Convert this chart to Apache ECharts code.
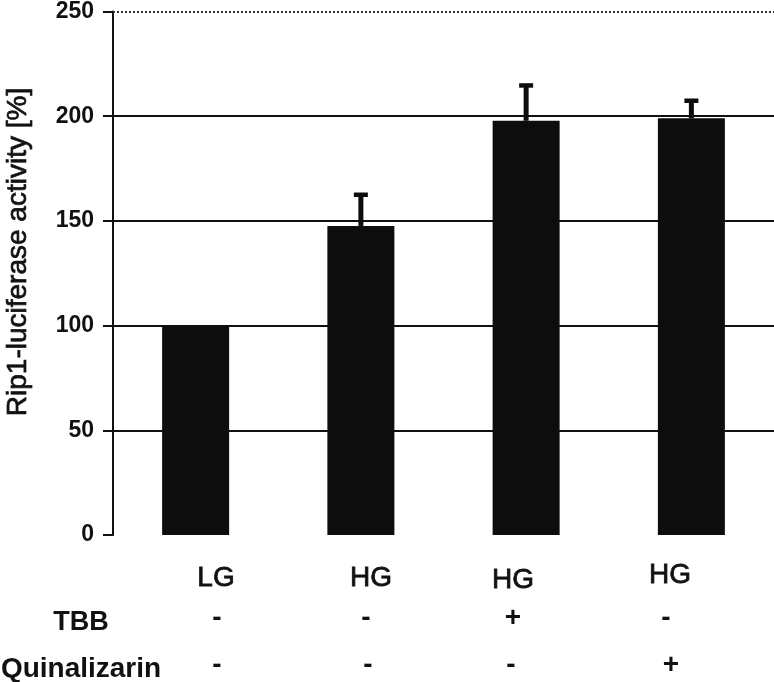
<!DOCTYPE html>
<html>
<head>
<meta charset="utf-8">
<script src="https://cdn.jsdelivr.net/npm/echarts@6/dist/echarts.min.js"></script>
<style>
html,body{margin:0;padding:0;background:#fff;}
#chart{width:774px;height:682px;}
</style>
</head>
<body>
<div id="chart"></div>
<script>
// ---- data ----
const categories = ['LG', 'HG', 'HG + TBB', 'HG + Quinalizarin'];
const activity = [100, 147.6, 197.8, 199];
const errorSD = [0, 15, 17, 8.5];
const yTicks = [0, 50, 100, 150, 200, 250];
const glucoseRow = ['LG', 'HG', 'HG', 'HG'];
const tbbRow = ['-', '-', '+', '-'];
const quinRow = ['-', '-', '-', '+'];
const rowTitles = ['TBB', 'Quinalizarin'];
const yAxisTitle = 'Rip1-luciferase activity [%]';

// ---- layout (style only) ----
const FONT = '"Liberation Sans", Arial, sans-serif';
const NARROW = '"Liberation Sans Narrow", "Arial Narrow", "Liberation Sans", sans-serif';
const glucoseX = [216, 371, 513, 670];
const glucoseY = [578, 578, 580, 575];
const signX1 = [217, 366, 513, 666];
const signX2 = [217, 368, 511, 671];

const chart = echarts.init(document.getElementById('chart'));

const errData = categories.map((c, i) => [i, activity[i], activity[i] + errorSD[i]]);

const ink = '#111';
const graphics = [];
graphics.push({
  type: 'text', x: 18, y: 252, rotation: Math.PI / 2,
  style: { text: yAxisTitle, font: '28px ' + FONT, fill: ink, stroke: ink, lineWidth: 0.7, align: 'center', verticalAlign: 'middle' }
});
glucoseRow.forEach((t, i) => graphics.push({
  type: 'text', x: glucoseX[i], y: glucoseY[i],
  style: { text: t, font: '28px ' + FONT, fill: ink, stroke: ink, lineWidth: 0.8, align: 'center', verticalAlign: 'middle' }
}));
graphics.push({
  type: 'text', x: 81, y: 623,
  style: { text: rowTitles[0], font: 'bold 27px ' + FONT, fill: ink, align: 'center', verticalAlign: 'middle' }
});
graphics.push({
  type: 'text', x: 81, y: 669,
  style: { text: rowTitles[1], font: 'bold 28px ' + FONT, fill: ink, align: 'center', verticalAlign: 'middle' }
});
tbbRow.forEach((t, i) => graphics.push({
  type: 'text', x: signX1[i], y: 618,
  style: { text: t, font: 'bold 28px ' + FONT, fill: ink, align: 'center', verticalAlign: 'middle' }
}));
quinRow.forEach((t, i) => graphics.push({
  type: 'text', x: signX2[i], y: 665,
  style: { text: t, font: 'bold 28px ' + FONT, fill: ink, align: 'center', verticalAlign: 'middle' }
}));

chart.setOption({
  animation: false,
  backgroundColor: '#fff',
  grid: { left: 113, right: 0, top: 10, bottom: 147 },
  xAxis: {
    type: 'category',
    data: categories,
    axisLine: { show: false },
    axisTick: { show: false },
    axisLabel: { show: false }
  },
  yAxis: {
    type: 'value',
    min: yTicks[0],
    max: yTicks[yTicks.length - 1],
    interval: 50,
    axisLine: { show: true, lineStyle: { color: ink, width: 2 } },
    axisTick: { show: true, inside: false, length: 10, lineStyle: { color: ink, width: 2 } },
    axisLabel: { margin: 19, fontFamily: NARROW, fontWeight: 'bold', fontSize: 23, color: ink },
    splitLine: { show: true, lineStyle: { color: ['rgba(0,0,0,0)', ink, ink, ink, ink, 'rgba(0,0,0,0)'], width: 2 } }
  },
  graphic: graphics,
  series: [
    {
      type: 'bar',
      data: activity,
      barWidth: 67,
      itemStyle: { color: '#0d0d0d' },
      z: 3,
      markLine: {
        silent: true,
        symbol: 'none',
        label: { show: false },
        lineStyle: { type: 'dotted', color: '#333', width: 2 },
        data: [{ yAxis: yTicks[yTicks.length - 1] }]
      }
    },
    {
      type: 'custom',
      data: errData,
      z: 4,
      renderItem: function (params, api) {
        const idx = api.value(0);
        const base = api.coord([idx, api.value(1)]);
        const top = api.coord([idx, api.value(2)]);
        if (base[1] - top[1] < 1) return { type: 'group', children: [] };
        return {
          type: 'group',
          children: [
            { type: 'rect', shape: { x: top[0] - 2.5, y: top[1], width: 5, height: base[1] - top[1] }, style: { fill: '#0d0d0d' } },
            { type: 'rect', shape: { x: top[0] - 7, y: top[1] - 2, width: 14, height: 4.5 }, style: { fill: '#0d0d0d' } }
          ]
        };
      }
    }
  ]
});
</script>
</body>
</html>
